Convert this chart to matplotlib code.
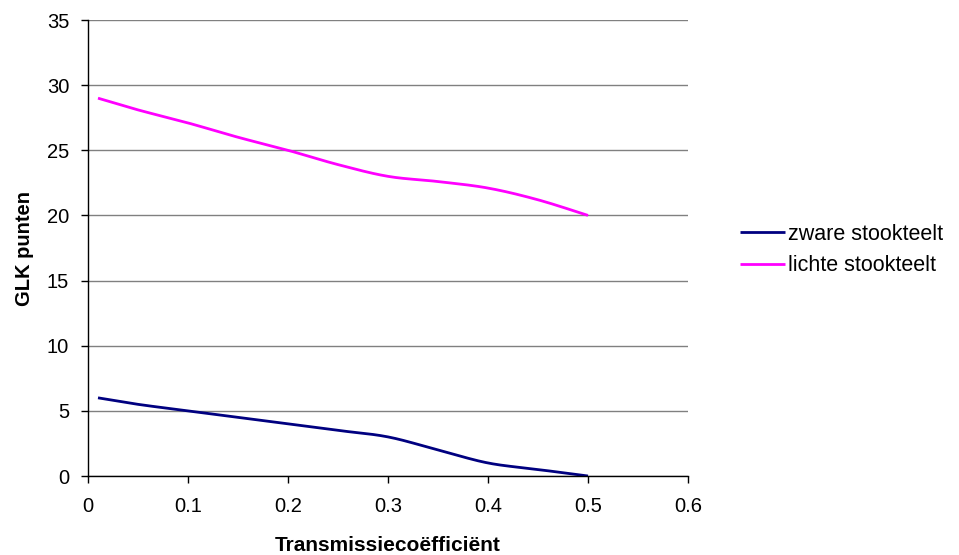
import numpy as np
import matplotlib
matplotlib.use("Agg")
import matplotlib.pyplot as plt

plt.rcParams['font.family'] = ['Liberation Sans', 'DejaVu Sans']

# waarden
transmissie = [0.01, 0.05, 0.1, 0.15, 0.2, 0.25, 0.3, 0.35, 0.4, 0.45, 0.5]
zware = [6, 5.5, 5, 4.5, 4, 3.5, 3, 2.0, 1.0, 0.5, 0]
lichte = [29, 28.1, 27.1, 26, 25, 23.9, 23, 22.6, 22.1, 21.2, 20]


# gladde lijn zoals in Excel (Catmull-Rom door de punten)
def smooth(xs, ys, n=20):
    p = np.column_stack([xs, ys]).astype(float)
    p = np.vstack([p[0], p, p[-1]])
    out = []
    t = np.linspace(0, 1, n, endpoint=False)[:, None]
    for i in range(1, len(p) - 2):
        p0, p1, p2, p3 = p[i - 1], p[i], p[i + 1], p[i + 2]
        seg = 0.5 * ((2 * p1) + (-p0 + p2) * t + (2 * p0 - 5 * p1 + 4 * p2 - p3) * t ** 2
                     + (-p0 + 3 * p1 - 3 * p2 + p3) * t ** 3)
        out.append(seg)
    out.append(p[-2][None, :])
    out = np.vstack(out)
    return out[:, 0], out[:, 1]


fig = plt.figure(figsize=(9.59, 5.55), dpi=100)
ax = fig.add_axes([88 / 959, 1 - 476 / 555, 600 / 959, 456 / 555])

sx, sy = smooth(transmissie, zware)
ax.plot(sx, sy, color="#000080", lw=2, label="zware stookteelt", solid_capstyle="butt")
sx, sy = smooth(transmissie, lichte)
ax.plot(sx, sy, color="#FF00FF", lw=2, label="lichte stookteelt", solid_capstyle="butt")

ax.set_xlim(0, 0.6)
ax.set_ylim(0, 35)
ax.set_xticks([0, 0.1, 0.2, 0.3, 0.4, 0.5, 0.6])
ax.set_xticklabels(["0", "0.1", "0.2", "0.3", "0.4", "0.5", "0.6"])
ax.set_yticks(range(0, 36, 5))
ax.yaxis.grid(True, color="#808080", lw=1)
ax.set_axisbelow(True)
for s in ["top", "right"]:
    ax.spines[s].set_visible(False)
ax.spines["left"].set_linewidth(1)
ax.spines["bottom"].set_linewidth(1)
ax.tick_params(direction="out", length=5, width=1, labelsize=14.5)
ax.tick_params(axis="x", pad=10)
ax.tick_params(axis="y", pad=8.5)

ax.set_xlabel("Transmissiecoëfficiënt", fontsize=15, fontweight="bold", labelpad=14.5)
ax.set_ylabel("GLK punten", fontsize=14.5, fontweight="bold", labelpad=9)

ax.legend(loc="center left", bbox_to_anchor=(740 / 959, 1 - 250 / 555),
          bbox_transform=fig.transFigure, frameon=False, fontsize=15.5,
          borderaxespad=0, borderpad=0,
          handlelength=2.1, handletextpad=0.15, labelspacing=0.5)

fig.savefig("out.png", dpi=100)
